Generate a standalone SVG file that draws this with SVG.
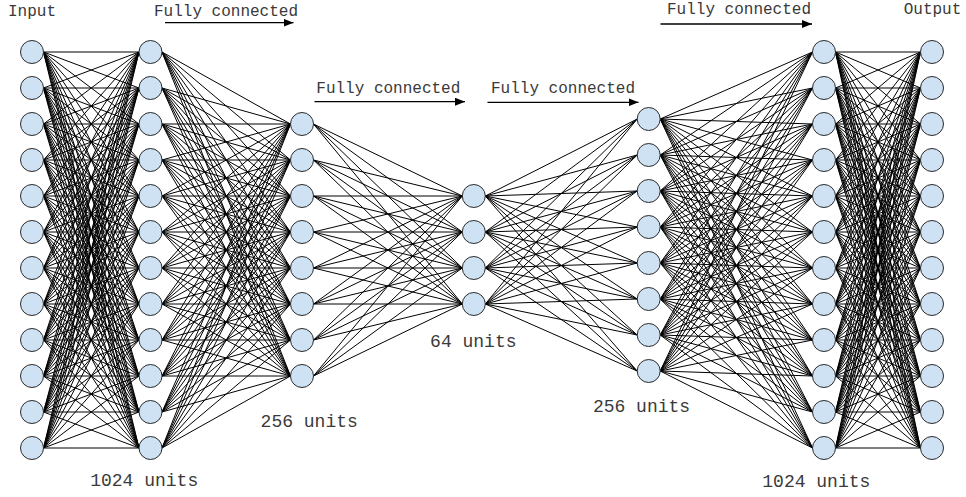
<svg xmlns="http://www.w3.org/2000/svg" width="966" height="497" viewBox="0 0 966 497">
<style>
.n{fill:#cfe2f3;stroke:#2b2b2b;stroke-width:1}
.c{fill:none;stroke:#000;stroke-width:1}
.a{fill:none;stroke:#000;stroke-width:1.3}
.t{font-family:"Liberation Mono","Courier New",monospace;fill:#3a3a3a;text-anchor:middle}
.s{font-size:16px}
.u{font-size:18px}
</style>
<defs>
<marker id="ah" markerUnits="userSpaceOnUse" markerWidth="11" markerHeight="8" refX="10" refY="4" orient="auto">
<path d="M0,0L10,4L0,8Z" fill="#000"/>
</marker>
</defs>
<rect width="966" height="497" fill="#fff"/>
<g id="connectors">
<path class="c" d="
M43.5,52L139,52M43.5,52L139,88M43.5,52L139,124M43.5,52L139,160M43.5,52L139,196M43.5,52L139,232M43.5,52L139,268M43.5,52L139,304M43.5,52L139,340M43.5,52L139,376M43.5,52L139,412M43.5,52L139,448
M43.5,88L139,52M43.5,88L139,88M43.5,88L139,124M43.5,88L139,160M43.5,88L139,196M43.5,88L139,232M43.5,88L139,268M43.5,88L139,304M43.5,88L139,340M43.5,88L139,376M43.5,88L139,412M43.5,88L139,448
M43.5,124L139,52M43.5,124L139,88M43.5,124L139,124M43.5,124L139,160M43.5,124L139,196M43.5,124L139,232M43.5,124L139,268M43.5,124L139,304M43.5,124L139,340M43.5,124L139,376M43.5,124L139,412M43.5,124L139,448
M43.5,160L139,52M43.5,160L139,88M43.5,160L139,124M43.5,160L139,160M43.5,160L139,196M43.5,160L139,232M43.5,160L139,268M43.5,160L139,304M43.5,160L139,340M43.5,160L139,376M43.5,160L139,412M43.5,160L139,448
M43.5,196L139,52M43.5,196L139,88M43.5,196L139,124M43.5,196L139,160M43.5,196L139,196M43.5,196L139,232M43.5,196L139,268M43.5,196L139,304M43.5,196L139,340M43.5,196L139,376M43.5,196L139,412M43.5,196L139,448
M43.5,232L139,52M43.5,232L139,88M43.5,232L139,124M43.5,232L139,160M43.5,232L139,196M43.5,232L139,232M43.5,232L139,268M43.5,232L139,304M43.5,232L139,340M43.5,232L139,376M43.5,232L139,412M43.5,232L139,448
M43.5,268L139,52M43.5,268L139,88M43.5,268L139,124M43.5,268L139,160M43.5,268L139,196M43.5,268L139,232M43.5,268L139,268M43.5,268L139,304M43.5,268L139,340M43.5,268L139,376M43.5,268L139,412M43.5,268L139,448
M43.5,304L139,52M43.5,304L139,88M43.5,304L139,124M43.5,304L139,160M43.5,304L139,196M43.5,304L139,232M43.5,304L139,268M43.5,304L139,304M43.5,304L139,340M43.5,304L139,376M43.5,304L139,412M43.5,304L139,448
M43.5,340L139,52M43.5,340L139,88M43.5,340L139,124M43.5,340L139,160M43.5,340L139,196M43.5,340L139,232M43.5,340L139,268M43.5,340L139,304M43.5,340L139,340M43.5,340L139,376M43.5,340L139,412M43.5,340L139,448
M43.5,376L139,52M43.5,376L139,88M43.5,376L139,124M43.5,376L139,160M43.5,376L139,196M43.5,376L139,232M43.5,376L139,268M43.5,376L139,304M43.5,376L139,340M43.5,376L139,376M43.5,376L139,412M43.5,376L139,448
M43.5,412L139,52M43.5,412L139,88M43.5,412L139,124M43.5,412L139,160M43.5,412L139,196M43.5,412L139,232M43.5,412L139,268M43.5,412L139,304M43.5,412L139,340M43.5,412L139,376M43.5,412L139,412M43.5,412L139,448
M43.5,448L139,52M43.5,448L139,88M43.5,448L139,124M43.5,448L139,160M43.5,448L139,196M43.5,448L139,232M43.5,448L139,268M43.5,448L139,304M43.5,448L139,340M43.5,448L139,376M43.5,448L139,412M43.5,448L139,448"/>
<path class="c" d="
M162,52L290.5,124M162,52L290.5,160M162,52L290.5,196M162,52L290.5,232M162,52L290.5,268M162,52L290.5,304M162,52L290.5,340M162,52L290.5,376
M162,88L290.5,124M162,88L290.5,160M162,88L290.5,196M162,88L290.5,232M162,88L290.5,268M162,88L290.5,304M162,88L290.5,340M162,88L290.5,376
M162,124L290.5,124M162,124L290.5,160M162,124L290.5,196M162,124L290.5,232M162,124L290.5,268M162,124L290.5,304M162,124L290.5,340M162,124L290.5,376
M162,160L290.5,124M162,160L290.5,160M162,160L290.5,196M162,160L290.5,232M162,160L290.5,268M162,160L290.5,304M162,160L290.5,340M162,160L290.5,376
M162,196L290.5,124M162,196L290.5,160M162,196L290.5,196M162,196L290.5,232M162,196L290.5,268M162,196L290.5,304M162,196L290.5,340M162,196L290.5,376
M162,232L290.5,124M162,232L290.5,160M162,232L290.5,196M162,232L290.5,232M162,232L290.5,268M162,232L290.5,304M162,232L290.5,340M162,232L290.5,376
M162,268L290.5,124M162,268L290.5,160M162,268L290.5,196M162,268L290.5,232M162,268L290.5,268M162,268L290.5,304M162,268L290.5,340M162,268L290.5,376
M162,304L290.5,124M162,304L290.5,160M162,304L290.5,196M162,304L290.5,232M162,304L290.5,268M162,304L290.5,304M162,304L290.5,340M162,304L290.5,376
M162,340L290.5,124M162,340L290.5,160M162,340L290.5,196M162,340L290.5,232M162,340L290.5,268M162,340L290.5,304M162,340L290.5,340M162,340L290.5,376
M162,376L290.5,124M162,376L290.5,160M162,376L290.5,196M162,376L290.5,232M162,376L290.5,268M162,376L290.5,304M162,376L290.5,340M162,376L290.5,376
M162,412L290.5,124M162,412L290.5,160M162,412L290.5,196M162,412L290.5,232M162,412L290.5,268M162,412L290.5,304M162,412L290.5,340M162,412L290.5,376
M162,448L290.5,124M162,448L290.5,160M162,448L290.5,196M162,448L290.5,232M162,448L290.5,268M162,448L290.5,304M162,448L290.5,340M162,448L290.5,376"/>
<path class="c" d="
M313.5,124L462.3,196M313.5,124L462.3,232M313.5,124L462.3,268M313.5,124L462.3,304
M313.5,160L462.3,196M313.5,160L462.3,232M313.5,160L462.3,268M313.5,160L462.3,304
M313.5,196L462.3,196M313.5,196L462.3,232M313.5,196L462.3,268M313.5,196L462.3,304
M313.5,232L462.3,196M313.5,232L462.3,232M313.5,232L462.3,268M313.5,232L462.3,304
M313.5,268L462.3,196M313.5,268L462.3,232M313.5,268L462.3,268M313.5,268L462.3,304
M313.5,304L462.3,196M313.5,304L462.3,232M313.5,304L462.3,268M313.5,304L462.3,304
M313.5,340L462.3,196M313.5,340L462.3,232M313.5,340L462.3,268M313.5,340L462.3,304
M313.5,376L462.3,196M313.5,376L462.3,232M313.5,376L462.3,268M313.5,376L462.3,304"/>
<path class="c" d="
M485.3,196L637.2,119M485.3,196L637.2,155M485.3,196L637.2,191M485.3,196L637.2,227M485.3,196L637.2,263M485.3,196L637.2,299M485.3,196L637.2,335M485.3,196L637.2,371
M485.3,232L637.2,119M485.3,232L637.2,155M485.3,232L637.2,191M485.3,232L637.2,227M485.3,232L637.2,263M485.3,232L637.2,299M485.3,232L637.2,335M485.3,232L637.2,371
M485.3,268L637.2,119M485.3,268L637.2,155M485.3,268L637.2,191M485.3,268L637.2,227M485.3,268L637.2,263M485.3,268L637.2,299M485.3,268L637.2,335M485.3,268L637.2,371
M485.3,304L637.2,119M485.3,304L637.2,155M485.3,304L637.2,191M485.3,304L637.2,227M485.3,304L637.2,263M485.3,304L637.2,299M485.3,304L637.2,335M485.3,304L637.2,371"/>
<path class="c" d="
M660.2,119L812.5,52M660.2,119L812.5,88M660.2,119L812.5,124M660.2,119L812.5,160M660.2,119L812.5,196M660.2,119L812.5,232M660.2,119L812.5,268M660.2,119L812.5,304M660.2,119L812.5,340M660.2,119L812.5,376M660.2,119L812.5,412M660.2,119L812.5,448
M660.2,155L812.5,52M660.2,155L812.5,88M660.2,155L812.5,124M660.2,155L812.5,160M660.2,155L812.5,196M660.2,155L812.5,232M660.2,155L812.5,268M660.2,155L812.5,304M660.2,155L812.5,340M660.2,155L812.5,376M660.2,155L812.5,412M660.2,155L812.5,448
M660.2,191L812.5,52M660.2,191L812.5,88M660.2,191L812.5,124M660.2,191L812.5,160M660.2,191L812.5,196M660.2,191L812.5,232M660.2,191L812.5,268M660.2,191L812.5,304M660.2,191L812.5,340M660.2,191L812.5,376M660.2,191L812.5,412M660.2,191L812.5,448
M660.2,227L812.5,52M660.2,227L812.5,88M660.2,227L812.5,124M660.2,227L812.5,160M660.2,227L812.5,196M660.2,227L812.5,232M660.2,227L812.5,268M660.2,227L812.5,304M660.2,227L812.5,340M660.2,227L812.5,376M660.2,227L812.5,412M660.2,227L812.5,448
M660.2,263L812.5,52M660.2,263L812.5,88M660.2,263L812.5,124M660.2,263L812.5,160M660.2,263L812.5,196M660.2,263L812.5,232M660.2,263L812.5,268M660.2,263L812.5,304M660.2,263L812.5,340M660.2,263L812.5,376M660.2,263L812.5,412M660.2,263L812.5,448
M660.2,299L812.5,52M660.2,299L812.5,88M660.2,299L812.5,124M660.2,299L812.5,160M660.2,299L812.5,196M660.2,299L812.5,232M660.2,299L812.5,268M660.2,299L812.5,304M660.2,299L812.5,340M660.2,299L812.5,376M660.2,299L812.5,412M660.2,299L812.5,448
M660.2,335L812.5,52M660.2,335L812.5,88M660.2,335L812.5,124M660.2,335L812.5,160M660.2,335L812.5,196M660.2,335L812.5,232M660.2,335L812.5,268M660.2,335L812.5,304M660.2,335L812.5,340M660.2,335L812.5,376M660.2,335L812.5,412M660.2,335L812.5,448
M660.2,371L812.5,52M660.2,371L812.5,88M660.2,371L812.5,124M660.2,371L812.5,160M660.2,371L812.5,196M660.2,371L812.5,232M660.2,371L812.5,268M660.2,371L812.5,304M660.2,371L812.5,340M660.2,371L812.5,376M660.2,371L812.5,412M660.2,371L812.5,448"/>
<path class="c" d="
M835.5,52L920.5,52M835.5,52L920.5,88M835.5,52L920.5,124M835.5,52L920.5,160M835.5,52L920.5,196M835.5,52L920.5,232M835.5,52L920.5,268M835.5,52L920.5,304M835.5,52L920.5,340M835.5,52L920.5,376M835.5,52L920.5,412M835.5,52L920.5,448
M835.5,88L920.5,52M835.5,88L920.5,88M835.5,88L920.5,124M835.5,88L920.5,160M835.5,88L920.5,196M835.5,88L920.5,232M835.5,88L920.5,268M835.5,88L920.5,304M835.5,88L920.5,340M835.5,88L920.5,376M835.5,88L920.5,412M835.5,88L920.5,448
M835.5,124L920.5,52M835.5,124L920.5,88M835.5,124L920.5,124M835.5,124L920.5,160M835.5,124L920.5,196M835.5,124L920.5,232M835.5,124L920.5,268M835.5,124L920.5,304M835.5,124L920.5,340M835.5,124L920.5,376M835.5,124L920.5,412M835.5,124L920.5,448
M835.5,160L920.5,52M835.5,160L920.5,88M835.5,160L920.5,124M835.5,160L920.5,160M835.5,160L920.5,196M835.5,160L920.5,232M835.5,160L920.5,268M835.5,160L920.5,304M835.5,160L920.5,340M835.5,160L920.5,376M835.5,160L920.5,412M835.5,160L920.5,448
M835.5,196L920.5,52M835.5,196L920.5,88M835.5,196L920.5,124M835.5,196L920.5,160M835.5,196L920.5,196M835.5,196L920.5,232M835.5,196L920.5,268M835.5,196L920.5,304M835.5,196L920.5,340M835.5,196L920.5,376M835.5,196L920.5,412M835.5,196L920.5,448
M835.5,232L920.5,52M835.5,232L920.5,88M835.5,232L920.5,124M835.5,232L920.5,160M835.5,232L920.5,196M835.5,232L920.5,232M835.5,232L920.5,268M835.5,232L920.5,304M835.5,232L920.5,340M835.5,232L920.5,376M835.5,232L920.5,412M835.5,232L920.5,448
M835.5,268L920.5,52M835.5,268L920.5,88M835.5,268L920.5,124M835.5,268L920.5,160M835.5,268L920.5,196M835.5,268L920.5,232M835.5,268L920.5,268M835.5,268L920.5,304M835.5,268L920.5,340M835.5,268L920.5,376M835.5,268L920.5,412M835.5,268L920.5,448
M835.5,304L920.5,52M835.5,304L920.5,88M835.5,304L920.5,124M835.5,304L920.5,160M835.5,304L920.5,196M835.5,304L920.5,232M835.5,304L920.5,268M835.5,304L920.5,304M835.5,304L920.5,340M835.5,304L920.5,376M835.5,304L920.5,412M835.5,304L920.5,448
M835.5,340L920.5,52M835.5,340L920.5,88M835.5,340L920.5,124M835.5,340L920.5,160M835.5,340L920.5,196M835.5,340L920.5,232M835.5,340L920.5,268M835.5,340L920.5,304M835.5,340L920.5,340M835.5,340L920.5,376M835.5,340L920.5,412M835.5,340L920.5,448
M835.5,376L920.5,52M835.5,376L920.5,88M835.5,376L920.5,124M835.5,376L920.5,160M835.5,376L920.5,196M835.5,376L920.5,232M835.5,376L920.5,268M835.5,376L920.5,304M835.5,376L920.5,340M835.5,376L920.5,376M835.5,376L920.5,412M835.5,376L920.5,448
M835.5,412L920.5,52M835.5,412L920.5,88M835.5,412L920.5,124M835.5,412L920.5,160M835.5,412L920.5,196M835.5,412L920.5,232M835.5,412L920.5,268M835.5,412L920.5,304M835.5,412L920.5,340M835.5,412L920.5,376M835.5,412L920.5,412M835.5,412L920.5,448
M835.5,448L920.5,52M835.5,448L920.5,88M835.5,448L920.5,124M835.5,448L920.5,160M835.5,448L920.5,196M835.5,448L920.5,232M835.5,448L920.5,268M835.5,448L920.5,304M835.5,448L920.5,340M835.5,448L920.5,376M835.5,448L920.5,412M835.5,448L920.5,448"/>
<line class="a" x1="165" y1="22.7" x2="293.5" y2="22.7" marker-end="url(#ah)"/>
<line class="a" x1="314.5" y1="101.7" x2="465" y2="101.7" marker-end="url(#ah)"/>
<line class="a" x1="487.5" y1="102.3" x2="638.5" y2="102.3" marker-end="url(#ah)"/>
<line class="a" x1="660.5" y1="24" x2="812" y2="24" marker-end="url(#ah)"/>
</g>
<g id="layer-input">
<circle class="n" cx="32" cy="52" r="11.5"/><circle class="n" cx="32" cy="88" r="11.5"/><circle class="n" cx="32" cy="124" r="11.5"/><circle class="n" cx="32" cy="160" r="11.5"/><circle class="n" cx="32" cy="196" r="11.5"/><circle class="n" cx="32" cy="232" r="11.5"/><circle class="n" cx="32" cy="268" r="11.5"/><circle class="n" cx="32" cy="304" r="11.5"/><circle class="n" cx="32" cy="340" r="11.5"/><circle class="n" cx="32" cy="376" r="11.5"/><circle class="n" cx="32" cy="412" r="11.5"/><circle class="n" cx="32" cy="448" r="11.5"/>
</g>
<g id="layer-1024-a">
<circle class="n" cx="150.5" cy="52" r="11.5"/><circle class="n" cx="150.5" cy="88" r="11.5"/><circle class="n" cx="150.5" cy="124" r="11.5"/><circle class="n" cx="150.5" cy="160" r="11.5"/><circle class="n" cx="150.5" cy="196" r="11.5"/><circle class="n" cx="150.5" cy="232" r="11.5"/><circle class="n" cx="150.5" cy="268" r="11.5"/><circle class="n" cx="150.5" cy="304" r="11.5"/><circle class="n" cx="150.5" cy="340" r="11.5"/><circle class="n" cx="150.5" cy="376" r="11.5"/><circle class="n" cx="150.5" cy="412" r="11.5"/><circle class="n" cx="150.5" cy="448" r="11.5"/>
</g>
<g id="layer-256-a">
<circle class="n" cx="302" cy="124" r="11.5"/><circle class="n" cx="302" cy="160" r="11.5"/><circle class="n" cx="302" cy="196" r="11.5"/><circle class="n" cx="302" cy="232" r="11.5"/><circle class="n" cx="302" cy="268" r="11.5"/><circle class="n" cx="302" cy="304" r="11.5"/><circle class="n" cx="302" cy="340" r="11.5"/><circle class="n" cx="302" cy="376" r="11.5"/>
</g>
<g id="layer-64">
<circle class="n" cx="473.8" cy="196" r="11.5"/><circle class="n" cx="473.8" cy="232" r="11.5"/><circle class="n" cx="473.8" cy="268" r="11.5"/><circle class="n" cx="473.8" cy="304" r="11.5"/>
</g>
<g id="layer-256-b">
<circle class="n" cx="648.7" cy="119" r="11.5"/><circle class="n" cx="648.7" cy="155" r="11.5"/><circle class="n" cx="648.7" cy="191" r="11.5"/><circle class="n" cx="648.7" cy="227" r="11.5"/><circle class="n" cx="648.7" cy="263" r="11.5"/><circle class="n" cx="648.7" cy="299" r="11.5"/><circle class="n" cx="648.7" cy="335" r="11.5"/><circle class="n" cx="648.7" cy="371" r="11.5"/>
</g>
<g id="layer-1024-b">
<circle class="n" cx="824" cy="52" r="11.5"/><circle class="n" cx="824" cy="88" r="11.5"/><circle class="n" cx="824" cy="124" r="11.5"/><circle class="n" cx="824" cy="160" r="11.5"/><circle class="n" cx="824" cy="196" r="11.5"/><circle class="n" cx="824" cy="232" r="11.5"/><circle class="n" cx="824" cy="268" r="11.5"/><circle class="n" cx="824" cy="304" r="11.5"/><circle class="n" cx="824" cy="340" r="11.5"/><circle class="n" cx="824" cy="376" r="11.5"/><circle class="n" cx="824" cy="412" r="11.5"/><circle class="n" cx="824" cy="448" r="11.5"/>
</g>
<g id="layer-output">
<circle class="n" cx="932" cy="52" r="11.5"/><circle class="n" cx="932" cy="88" r="11.5"/><circle class="n" cx="932" cy="124" r="11.5"/><circle class="n" cx="932" cy="160" r="11.5"/><circle class="n" cx="932" cy="196" r="11.5"/><circle class="n" cx="932" cy="232" r="11.5"/><circle class="n" cx="932" cy="268" r="11.5"/><circle class="n" cx="932" cy="304" r="11.5"/><circle class="n" cx="932" cy="340" r="11.5"/><circle class="n" cx="932" cy="376" r="11.5"/><circle class="n" cx="932" cy="412" r="11.5"/><circle class="n" cx="932" cy="448" r="11.5"/>
</g>
<g id="labels">
<text class="t s" x="32" y="15.7">Input</text>
<text class="t s" x="932.5" y="14">Output</text>
<text class="t s" x="226" y="15.7">Fully connected</text>
<text class="t s" x="388.3" y="93">Fully connected</text>
<text class="t s" x="563" y="93">Fully connected</text>
<text class="t s" x="739" y="14">Fully connected</text>
<text class="t u" x="144.2" y="486">1024 units</text>
<text class="t u" x="309.2" y="426.7">256 units</text>
<text class="t u" x="473.3" y="346.7">64 units</text>
<text class="t u" x="641.5" y="412">256 units</text>
<text class="t u" x="816.3" y="487">1024 units</text>
</g>
</svg>
